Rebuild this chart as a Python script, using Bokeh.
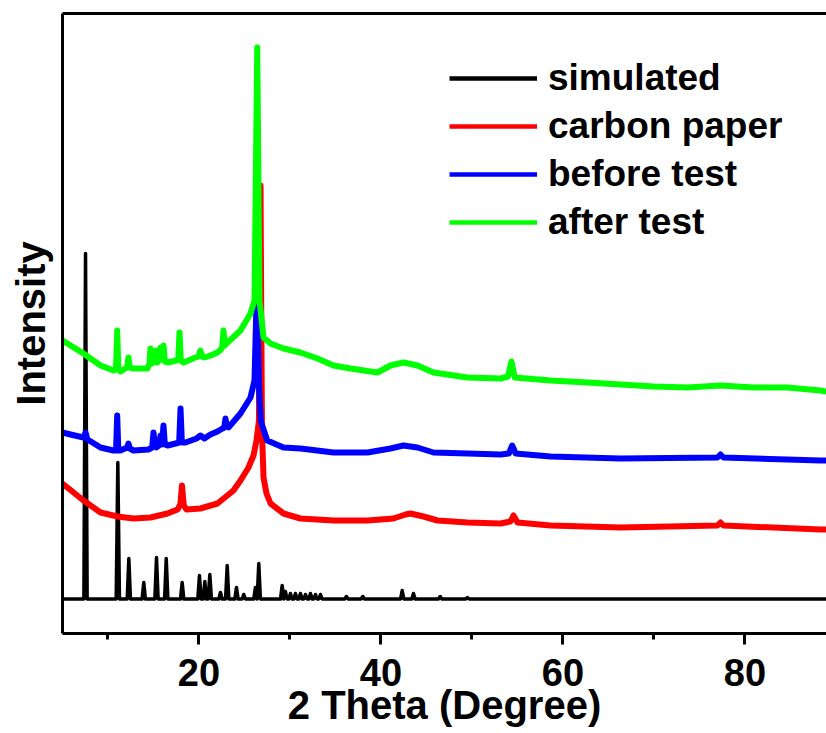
from bokeh.plotting import figure
from bokeh.models import Range1d, FixedTicker, LinearAxis, Legend, LegendItem
from bokeh.embed import file_html
from bokeh.resources import INLINE

FONT = "Liberation Sans"

# ---- simulated pattern: reflection positions (2theta, deg) and peak intensities
sim_two_theta = [7.53, 11.08, 12.29, 13.93, 15.33, 16.40, 18.15, 20.05, 20.64, 21.19,
                 22.36, 23.10, 24.12, 24.92, 26.20, 26.57, 29.14, 29.50, 30.05, 30.60,
                 31.15, 31.70, 32.25, 32.80, 33.35, 36.20, 38.00, 42.33, 43.57, 46.50, 49.50]
sim_intensity = [380, 171, 75, 51, 76, 75, 51, 58, 52, 59,
                 41, 68, 46, 39, 46, 70, 48, 42, 40, 40,
                 40, 39, 40, 39, 39, 37, 37, 43, 40, 37, 36]
sim_baseline = 34.5

# ---- carbon paper
carbon_two_theta = [5.00, 7.31, 9.18, 11.04, 12.80, 14.67, 16.54, 17.64, 17.95, 18.13,
                    18.33, 18.63, 20.16, 22.03, 23.79, 24.56, 25.44, 25.99, 26.32, 26.59,
                    26.76, 26.92, 27.09, 27.42, 27.86, 29.29, 31.15, 34.78, 38.52, 41.37,
                    42.69, 43.24, 44.67, 46.21, 49.51, 53.13, 54.23, 54.56, 55.00, 58.63,
                    66.32, 76.98, 77.31, 77.64, 88.30, 88.96]
carbon_intensity = [150, 133, 121, 117, 115, 116, 120, 124, 129, 148,
                    128, 124, 125, 130, 143, 153, 166, 178, 193, 213,
                    448, 203, 156, 140, 130, 120, 115, 113, 113, 115,
                    119, 120, 117, 113, 111, 110, 112, 118, 111, 108,
                    106, 108, 111, 108, 104, 104]

# ---- electrode before test
before_two_theta = [5.00, 5.88, 7.31, 7.53, 7.75, 9.18, 10.60, 10.88, 11.01, 11.14,
                    11.37, 12.10, 12.25, 12.40, 12.80, 14.45, 14.85, 15.00, 15.15, 15.33,
                    15.60, 15.77, 15.92, 16.10, 16.25, 16.54, 17.42, 17.82, 17.97, 18.12,
                    18.52, 19.73, 20.16, 20.60, 21.26, 22.03, 22.58, 22.78, 22.91, 23.05,
                    23.24, 24.56, 25.66, 26.10, 26.35, 26.62, 26.80, 27.50, 29.29, 31.15,
                    34.78, 38.52, 41.04, 42.47, 44.01, 45.77, 49.51, 53.13, 54.05, 54.42,
                    54.80, 58.63, 66.32, 76.98, 77.31, 77.64, 88.30, 88.96]
before_intensity = [201, 199, 196, 201, 194, 186, 183, 183, 218, 183,
                    183, 186, 190, 185, 183, 184, 186, 201, 187, 186,
                    188, 198, 189, 208, 189, 188, 190, 191, 225, 191,
                    191, 195, 198, 195, 199, 202, 205, 206, 215, 207,
                    206, 220, 236, 253, 343, 240, 212, 193, 186, 185,
                    181, 181, 185, 188, 186, 181, 180, 179, 180, 188,
                    180, 177, 175, 176, 179, 176, 173, 173]

# ---- electrode after test
after_two_theta = [5.00, 7.31, 9.18, 10.60, 10.88, 11.01, 11.14, 11.37, 12.10, 12.25,
                   12.40, 12.69, 14.34, 14.55, 14.67, 14.80, 15.00, 15.22, 15.40, 15.55,
                   15.77, 15.90, 16.10, 16.25, 16.54, 17.53, 17.72, 17.86, 18.00, 18.30,
                   19.62, 19.95, 20.16, 20.35, 20.60, 21.26, 22.03, 22.40, 22.55, 22.69,
                   22.85, 23.02, 24.56, 25.66, 26.10, 26.40, 26.65, 27.09, 27.86, 29.29,
                   31.15, 33.02, 34.78, 36.65, 39.62, 41.04, 42.47, 44.01, 45.77, 49.51,
                   53.13, 53.95, 54.34, 54.70, 58.63, 62.69, 66.32, 69.95, 73.68, 77.31,
                   80.93, 84.67, 88.30, 88.96]
after_intensity = [293, 280, 268, 263, 264, 303, 264, 262, 266, 276,
                   266, 265, 265, 270, 285, 270, 271, 283, 271, 272,
                   286, 274, 288, 272, 271, 273, 274, 301, 273, 271,
                   276, 277, 283, 277, 276, 278, 281, 284, 286, 303,
                   288, 290, 303, 320, 333, 586, 333, 296, 290, 285,
                   281, 275, 268, 265, 261, 268, 271, 268, 261, 256,
                   255, 257, 272, 256, 253, 251, 249, 247, 246, 248,
                   246, 246, 243, 242]

series_names = ["simulated", "carbon paper", "before test", "after test"]
series_colors = ["#000000", "#FF0000", "#0000FF", "#00FF00"]

x_major_ticks = [20, 40, 60, 80]
x_minor_ticks = [10, 30, 50, 70]
X_START, X_END = 5.0, 88.96
Y_START, Y_END = 0, 620

# the simulated pattern is drawn as narrow sticks on a flat baseline
STICK_HALF_WIDTH = 0.18
sim_x = [X_START]
sim_y = [sim_baseline]
for pos, top in zip(sim_two_theta, sim_intensity):
    sim_x += [pos - STICK_HALF_WIDTH, pos, pos + STICK_HALF_WIDTH]
    sim_y += [sim_baseline, top, sim_baseline]
sim_x.append(X_END)
sim_y.append(sim_baseline)

p = figure(width=826, height=733, output_backend="svg", toolbar_location=None,
           x_range=Range1d(X_START, X_END), y_range=Range1d(Y_START, Y_END),
           min_border_left=62, min_border_right=0, min_border_top=13, min_border_bottom=100,
           background_fill_color="white", border_fill_color="white")
p.outline_line_color = None
p.grid.visible = False

curves = [
    (sim_x, sim_y, 3.5),
    (carbon_two_theta, carbon_intensity, 6),
    (before_two_theta, before_intensity, 6),
    (after_two_theta, after_intensity, 6),
]
for (xs, ys, lw), color in zip(curves, series_colors):
    p.line(xs, ys, line_color=color, line_width=lw, line_join="round")

# legend keys share one stroke width; their single point sits off the visible range
legend_items = []
for name, color in zip(series_names, series_colors):
    key = p.line([X_START - 10], [Y_START - 10], line_color=color, line_width=4.5)
    legend_items.append(LegendItem(label=name, renderers=[key]))

# x axis
xa = p.xaxis[0]
xa.ticker = FixedTicker(ticks=x_major_ticks, minor_ticks=x_minor_ticks)
xa.axis_line_width = 3
xa.major_tick_line_width = 3
xa.minor_tick_line_width = 3
xa.major_tick_in = 0
xa.major_tick_out = 11
xa.minor_tick_in = 0
xa.minor_tick_out = 6
xa.major_label_standoff = 14
xa.major_label_text_font = FONT
xa.major_label_text_font_style = "bold"
xa.major_label_text_font_size = "38px"
xa.major_label_text_color = "black"
xa.axis_label = "2 Theta (Degree)"
xa.axis_label_text_font = FONT
xa.axis_label_text_font_style = "bold"
xa.axis_label_text_font_size = "40px"
xa.axis_label_text_color = "black"
xa.axis_label_standoff = -6

# y axis: line and title only
ya = p.yaxis[0]
ya.ticker = FixedTicker(ticks=[])
ya.axis_line_width = 3
ya.major_tick_line_color = None
ya.minor_tick_line_color = None
ya.major_label_text_font_size = "0px"
ya.axis_label = "Intensity"
ya.axis_label_text_font = FONT
ya.axis_label_text_font_style = "bold"
ya.axis_label_text_font_size = "40px"
ya.axis_label_text_color = "black"
ya.axis_label_standoff = 10

# top frame line
top = LinearAxis(ticker=FixedTicker(ticks=[]), axis_line_width=3,
                 major_tick_line_color=None, minor_tick_line_color=None,
                 major_label_text_font_size="0px")
p.add_layout(top, "above")

legend = Legend(items=legend_items, location=(387, 389), orientation="vertical",
                background_fill_alpha=0, border_line_color=None,
                padding=0, margin=0, spacing=4, glyph_width=88, glyph_height=44,
                label_height=44, label_standoff=11,
                label_text_font=FONT, label_text_font_style="bold",
                label_text_font_size="37px", label_text_color="black")
p.add_layout(legend, "center")

open("out.html", "w").write(file_html(p, INLINE))
